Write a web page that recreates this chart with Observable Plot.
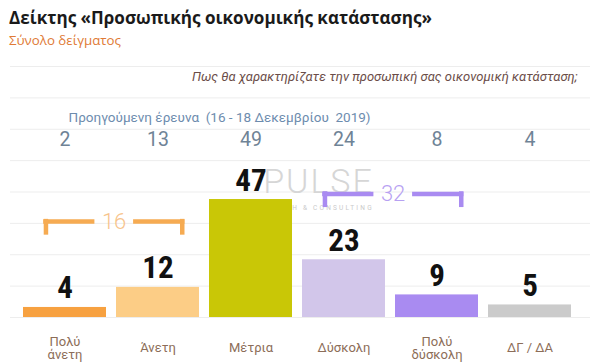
<!DOCTYPE html>
<html><head><meta charset="utf-8">
<script src="https://cdn.jsdelivr.net/npm/d3@7"></script>
<script src="https://cdn.jsdelivr.net/npm/@observablehq/plot@0.6"></script>
<style>
html,body{margin:0;padding:0;background:#fff;}
body{width:600px;height:364px;overflow:hidden;position:relative;font-family:Roboto,"Noto Sans",sans-serif;}
#title{position:absolute;left:9px;top:7px;font-family:"Open Sans","Noto Sans",sans-serif;font-weight:bold;font-size:19px;line-height:22px;color:#1a1a1a;white-space:nowrap;}
#subtitle{position:absolute;left:9px;top:31px;font-family:"Open Sans","Noto Sans",sans-serif;font-size:14px;line-height:18px;color:#e07a35;white-space:nowrap;}
#chart{position:absolute;left:0;top:55px;}
</style></head><body>
<div id="title">Δείκτης «Προσωπικής οικονομικής κατάστασης»</div>
<div id="subtitle">Σύνολο δείγματος</div>
<div id="chart"></div>
<script>
const categories = ["Πολύ άνετη", "Άνετη", "Μέτρια", "Δύσκολη", "Πολύ δύσκολη", "ΔΓ / ΔΑ"];
const axisLabels = ["Πολύ\nάνετη", "Άνετη", "Μέτρια", "Δύσκολη", "Πολύ\nδύσκολη", "ΔΓ / ΔΑ"];
const currentValues = [4, 12, 47, 23, 9, 5];
const previousValues = [2, 13, 49, 24, 8, 4];
const barColors = ["#f7a140", "#fccd86", "#c9c706", "#d2c6ea", "#a98bf1", "#cbcbcb"];
const groupFrom = ["Πολύ άνετη", "Δύσκολη"];
const groupTo = ["Άνετη", "Πολύ δύσκολη"];
const groupTotals = [16, 32];
const groupLine = ["#f6ab52", "#a98bf1"];
const groupText = ["#f7c48c", "#b7a1f2"];
const questionText = "Πως θα χαρακτηρίζατε την προσωπική σας οικονομική κατάσταση;";
const previousLabel = "Προηγούμενη έρευνα  (16 - 18 Δεκεμβρίου  2019)";

// fit header widths
function fit(id, target) {
  const el = document.getElementById(id);
  const fs = parseFloat(getComputedStyle(el).fontSize);
  const w = el.getBoundingClientRect().width;
  if (w > 0) el.style.fontSize = (fs * target / w).toFixed(2) + "px";
}
fit("title", 423);
fit("subtitle", 112);

const W = 600, H = 309, mL = 18, mR = 24, mT = 11, mB = 47;
const step = (W - mL - mR) / categories.length;

const bars = categories.map((c, i) => ({cat: c, value: currentValues[i], prev: previousValues[i], color: barColors[i], label: axisLabels[i]}));
const groups = groupTotals.map((t, i) => {
  const vals = bars.filter(b => b.cat === groupFrom[i] || b.cat === groupTo[i]).map(b => b.value);
  return {from: groupFrom[i], to: groupTo[i], total: t, level: d3.max(vals) + 26.2, line: groupLine[i], text: groupText[i]};
});
const drop = 5.4;
const mid = step / 2 + 2.6;

const plot = Plot.plot({
  width: W, height: H,
  marginLeft: mL, marginRight: mR, marginTop: mT, marginBottom: mB,
  style: {fontFamily: "Roboto, sans-serif", background: "transparent", overflow: "visible"},
  x: {domain: categories, paddingInner: 0.11, paddingOuter: 0.055, axis: null},
  y: {domain: [0, 100], axis: null},
  marks: [
    Plot.ruleY(d3.range(0, 100.01, 12.5), {stroke: "#ededed", strokeWidth: 1, insetLeft: -8, insetRight: -14}),
    Plot.text(["PULSE"], {frameAnchor: "top-left", dx: 300, dy: 126, lineAnchor: "bottom", textAnchor: "middle", fontSize: 34, fontWeight: 300, fill: "#d6d6d6"}),
    Plot.text(["RESEARCH & CONSULTING"], {frameAnchor: "top-left", dx: 293, dy: 143, lineAnchor: "bottom", textAnchor: "middle", fontSize: 6.5, fill: "#cacaca"}),
    Plot.barY(bars, {x: "cat", y: "value", fill: "color"}),
    Plot.text(bars, {x: "cat", y: "value", text: d => String(d.value), dy: -9, lineAnchor: "bottom",
      fontFamily: "'Liberation Sans Narrow', 'Roboto Condensed', 'DejaVu Sans Condensed', sans-serif", fontWeight: "bold", fontSize: 31, fill: "#111"}),
    Plot.text(bars, {x: "cat", text: d => String(d.prev), frameAnchor: "top", dy: 79, lineAnchor: "bottom", fontSize: 19.5, fill: "#6f8396"}),
    Plot.text(bars, {x: "cat", text: "label", frameAnchor: "bottom", dy: 30.5, lineAnchor: "middle", lineHeight: 1.05, fontSize: 13, fill: "#8c6d58"}),
    Plot.text([questionText], {frameAnchor: "top-right", dx: 1, dy: 14, lineAnchor: "bottom", textAnchor: "end", fontSize: 13, fontStyle: "italic", fill: "#6b4d48"}),
    Plot.text([previousLabel], {frameAnchor: "top-left", dx: 50, dy: 55, lineAnchor: "bottom", textAnchor: "start", fontSize: 13.5, fill: "#6d8cae"}),
    // bracket horizontal segments (within the bands of the two grouped bars)
    Plot.tickY(groups, {x: "from", y: "level", stroke: "line", strokeWidth: 4.5, insetLeft: 20.2, insetRight: 11.6}),
    Plot.tickY(groups, {x: "to", y: "level", stroke: "line", strokeWidth: 4.5, insetLeft: 17.1, insetRight: 14.6}),
    Plot.ruleX(groups, {x: "from", y1: d => d.level + 0.9, y2: d => d.level - drop, stroke: "line", strokeWidth: 4.5, dx: -19.05}),
    Plot.ruleX(groups, {x: "to", y1: d => d.level + 0.9, y2: d => d.level - drop, stroke: "line", strokeWidth: 4.5, dx: 24.25}),
    Plot.text(groups, {x: "from", y: "level", text: d => String(d.total), dx: mid, lineAnchor: "middle", fontSize: 22, fontWeight: 300, fill: "text"})
  ]
});
document.getElementById("chart").appendChild(plot);
d3.select(plot).selectAll("text").filter(function() { return this.textContent === "PULSE"; }).attr("letter-spacing", "2px");
d3.select(plot).selectAll("text").filter(function() { return this.textContent === "RESEARCH & CONSULTING"; }).attr("letter-spacing", "2.2px");
</script>
</body></html>
